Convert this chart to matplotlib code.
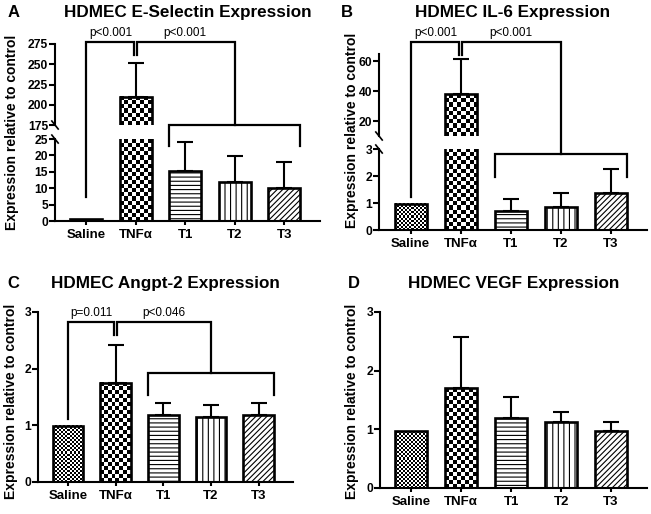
import matplotlib.pyplot as plt
import numpy as np
from matplotlib.lines import Line2D

plt.rcParams['font.family'] = ['Liberation Sans', 'DejaVu Sans']
plt.rcParams['hatch.linewidth'] = 0.8

groups = ['Saline', 'TNFα', 'T1', 'T2', 'T3']

# bar heights and upper error
esel_mean = [0.6, 210, 15.3, 12.0, 10.1]
esel_err = [0, 42, 8.8, 7.7, 7.8]
il6_mean = [0.98, 37.9, 0.72, 0.85, 1.36]
il6_err = [0, 23.2, 0.42, 0.51, 0.89]
ang_mean = [0.99, 1.75, 1.18, 1.14, 1.18]
ang_err = [0, 0.66, 0.21, 0.21, 0.21]
vegf_mean = [0.97, 1.70, 1.19, 1.12, 0.98]
vegf_err = [0, 0.87, 0.36, 0.18, 0.14]

x = np.arange(len(groups))
w = 0.64
hatches = [None, None, '----', '|||', '//////']
cells = [2, 4, None, None, None]   # checker cell size in px

fig = plt.figure(figsize=(6.51, 5.14), dpi=100)


def style(ax, bottom=True):
    for s in ['top', 'right']:
        ax.spines[s].set_visible(False)
    ax.spines['left'].set_linewidth(1.5)
    ax.spines['bottom'].set_linewidth(1.5)
    ax.tick_params(axis='y', length=4, width=1.5, labelsize=8.7, pad=1)
    ax.tick_params(axis='x', length=3, width=1.5, labelsize=9.5, pad=3)
    if bottom:
        ax.set_xticks(x)
        ax.set_xticklabels(groups, fontweight='bold')
    else:
        ax.spines['bottom'].set_visible(False)
        ax.set_xticks([])
    for t in ax.get_yticklabels():
        t.set_fontweight('bold')
    ax.set_xlim(-0.63, 4.72)


def checker(ax, xc, top, cell):
    y0, y1 = ax.get_ylim()
    bot = max(0, y0)
    t = min(top, y1)
    if t <= bot:
        return
    p0 = ax.transData.transform((xc - w / 2, bot))
    p1 = ax.transData.transform((xc + w / 2, t))
    nx = max(1, int(round((p1[0] - p0[0]) / cell)))
    ny = max(1, int(round((p1[1] - p0[1]) / cell)))
    img = np.add.outer(np.arange(ny), np.arange(nx)) % 2
    ax.imshow(img, cmap='gray', extent=(xc - w / 2, xc + w / 2, bot, t),
              origin='lower', aspect='auto', interpolation='nearest', zorder=1)
    ax.set_xlim(-0.63, 4.72)
    ax.set_ylim(y0, y1)


def bars(ax, mean, err):
    for i in range(len(groups)):
        if cells[i]:
            checker(ax, x[i], mean[i], cells[i])
            ax.bar(x[i], mean[i], w, facecolor='none', edgecolor='k', lw=1.9, zorder=2)
        else:
            ax.bar(x[i], mean[i], w, facecolor='white', edgecolor='k', lw=1.9,
                   hatch=hatches[i], zorder=2)
    ax.errorbar(x[1:], mean[1:], yerr=[np.zeros(4), err[1:]], fmt='none', ecolor='k',
                elinewidth=1.5, capsize=6, capthick=1.5, zorder=1.5)


def to_fig(ax, xx, yy):
    return fig.transFigure.inverted().transform(ax.transData.transform((xx, yy)))


def path(pts):
    xy = np.array([to_fig(a, xx, yy) for a, xx, yy in pts])
    fig.add_artist(Line2D(xy[:, 0], xy[:, 1], color='k', lw=1.6,
                          transform=fig.transFigure, solid_joinstyle='miter'))


def ptext(ax, xx, yy, s):
    xf, yf = to_fig(ax, xx, yy)
    fig.text(xf, yf + 0.006, s, ha='center', va='bottom', fontsize=8.5)


def brk(ax, top):
    dx, dy = 0.012, 4.0 / (ax.get_position().height * 514)
    yb = 1 if top else 0
    ax.plot([-dx, dx], [yb + dy, yb - dy], color='k', lw=1.2,
            transform=ax.transAxes, clip_on=False)


def labels(ax_ref, letter, title, lx, ly, tx_y, yl_x, yl_y):
    pos = ax_ref.get_position()
    fig.text(lx, ly, letter, fontsize=12, fontweight='bold', ha='left', va='center')
    fig.text(pos.x0 + pos.width / 2, tx_y, title, fontsize=12.3, fontweight='bold',
             ha='center', va='center')
    fig.text(yl_x, yl_y, 'Expression relative to control', rotation=90, fontsize=10,
             fontweight='bold', ha='center', va='center')


# ---- A: E-Selectin (broken axis)
a_lo = fig.add_axes([0.0845, 0.570, 0.407, 0.1595])
a_hi = fig.add_axes([0.0845, 0.7568, 0.407, 0.1576])
a_lo.set_ylim(0, 25)
a_lo.set_yticks([0, 5, 10, 15, 20, 25])
a_hi.set_ylim(175, 275)
a_hi.set_yticks([175, 200, 225, 250, 275])
style(a_lo)
style(a_hi, bottom=False)
bars(a_lo, esel_mean, esel_err)
bars(a_hi, esel_mean, esel_err)
brk(a_hi, False)
brk(a_lo, True)
path([(a_lo, 0, 7.3), (a_hi, 0, 277.5), (a_hi, 0.965, 277.5), (a_hi, 0.965, 261)])
path([(a_hi, 1.035, 261), (a_hi, 1.035, 277.5), (a_hi, 3, 277.5), (a_hi, 3, 175)])
path([(a_lo, 1.68, 23), (a_hi, 1.68, 175), (a_hi, 4.32, 175), (a_lo, 4.32, 23)])
ptext(a_hi, 0.5, 277.5, 'p<0.001')
ptext(a_hi, 2, 277.5, 'p<0.001')
labels(a_hi, 'A', 'HDMEC E-Selectin Expression', 0.011, 0.975, 0.975, 0.019, 0.743)

# ---- B: IL-6 (broken axis)
b_lo = fig.add_axes([0.5822, 0.5525, 0.4117, 0.1576])
b_hi = fig.add_axes([0.5822, 0.7354, 0.4117, 0.1605])
b_lo.set_ylim(0, 3)
b_lo.set_yticks([0, 1, 2, 3])
b_hi.set_ylim(10, 65)
b_hi.set_yticks([20, 40, 60])
style(b_lo)
style(b_hi, bottom=False)
bars(b_lo, il6_mean, il6_err)
bars(b_hi, il6_mean, il6_err)
brk(b_hi, False)
brk(b_lo, True)
path([(b_lo, 0, 1.22), (b_hi, 0, 72.7), (b_hi, 0.965, 72.7), (b_hi, 0.965, 64)])
path([(b_hi, 1.035, 64), (b_hi, 1.035, 72.7), (b_hi, 3, 72.7), (b_lo, 3, 2.81)])
path([(b_lo, 1.68, 1.96), (b_lo, 1.68, 2.81), (b_lo, 4.32, 2.81), (b_lo, 4.32, 1.96)])
ptext(b_hi, 0.5, 72.7, 'p<0.001')
ptext(b_hi, 2, 72.7, 'p<0.001')
labels(b_hi, 'B', 'HDMEC IL-6 Expression', 0.524, 0.975, 0.975, 0.5405, 0.747)

# ---- C: Angpt-2
c = fig.add_axes([0.0584, 0.0623, 0.3917, 0.3307])
c.set_ylim(0, 3)
c.set_yticks([0, 1, 2, 3])
style(c)
bars(c, ang_mean, ang_err)
path([(c, 0, 1.12), (c, 0, 2.82), (c, 0.965, 2.82), (c, 0.965, 2.6)])
path([(c, 1.035, 2.6), (c, 1.035, 2.82), (c, 3, 2.82), (c, 3, 1.92)])
path([(c, 1.68, 1.53), (c, 1.68, 1.92), (c, 4.32, 1.92), (c, 4.32, 1.53)])
ptext(c, 0.5, 2.82, 'p=0.011')
ptext(c, 2, 2.82, 'p<0.046')
labels(c, 'C', 'HDMEC Angpt-2 Expression', 0.011, 0.449, 0.449, 0.017, 0.22)

# ---- D: VEGF
d = fig.add_axes([0.5837, 0.0506, 0.410, 0.3424])
d.set_ylim(0, 3)
d.set_yticks([0, 1, 2, 3])
style(d)
bars(d, vegf_mean, vegf_err)
labels(d, 'D', 'HDMEC VEGF Expression', 0.535, 0.4475, 0.4475, 0.5405, 0.22)

fig.savefig('out.png', dpi=100)
